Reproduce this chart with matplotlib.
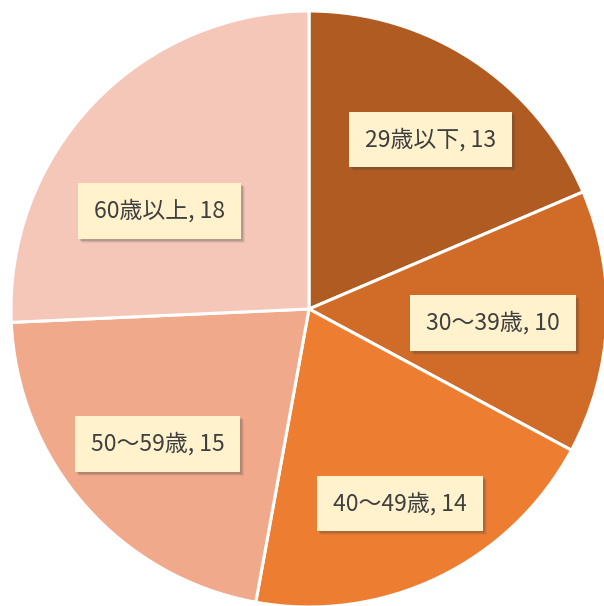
import numpy as np
import matplotlib

matplotlib.use("Agg")
import matplotlib.pyplot as plt
from matplotlib.patches import Rectangle
from matplotlib.transforms import IdentityTransform

plt.rcParams["font.family"] = ["Noto Sans CJK JP", "DejaVu Sans"]

labels = ["29歳以下", "30〜39歳", "40〜49歳", "50〜59歳", "60歳以上"]
values = [13, 10, 14, 15, 18]
colors = ["#B05B21", "#D16B28", "#ED7D31", "#F0A98A", "#F4C7B9"]

# label placement (fraction of radius, angle tweak in degrees)
label_pos = [(0.70, -2.2), (0.62, -1.8), (0.72, -0.7), (0.68, 0.5), (0.60, 10.4)]

W, H = 604, 606
fig = plt.figure(figsize=(W / 100, H / 100), dpi=100)
ax = fig.add_axes([0, 0, 1, 1])

cx, cy, r = 309, H - 309, 298
wedges, _ = ax.pie(
    values, colors=colors, startangle=90, counterclock=False,
    center=(cx, cy), radius=r, frame=True,
    wedgeprops=dict(edgecolor="white", linewidth=2.2),
)
ax.set_xlim(0, W)
ax.set_ylim(0, H)
ax.set_aspect("equal")
ax.axis("off")

total = sum(values)
start = 90.0
texts = []
for lab, val, (frac, tweak) in zip(labels, values, label_pos):
    span = val / total * 360
    mid = np.deg2rad(start - span / 2 + tweak)
    start -= span
    x = cx + frac * r * np.cos(mid)
    y = cy + frac * r * np.sin(mid)
    t = ax.text(x, y, f"{lab}, {val}", fontsize=16.5, color="#3F3F3F",
                ha="center", va="center", zorder=10,
                bbox=dict(boxstyle="square,pad=0.7", facecolor="#FFF2CC", edgecolor="none"))
    texts.append(t)

# soft drop shadow behind each label box
fig.canvas.draw()
for t in texts:
    bb = t.get_bbox_patch().get_window_extent()
    for off, a in [(5, 0.08), (4, 0.12), (3, 0.18)]:
        ax.add_patch(Rectangle((bb.x0 + off - 1, bb.y0 - off + 1), bb.width, bb.height,
                               transform=IdentityTransform(), facecolor="#404040",
                               edgecolor="none", alpha=a, zorder=4, clip_on=False))

fig.savefig("out.png", dpi=100)
